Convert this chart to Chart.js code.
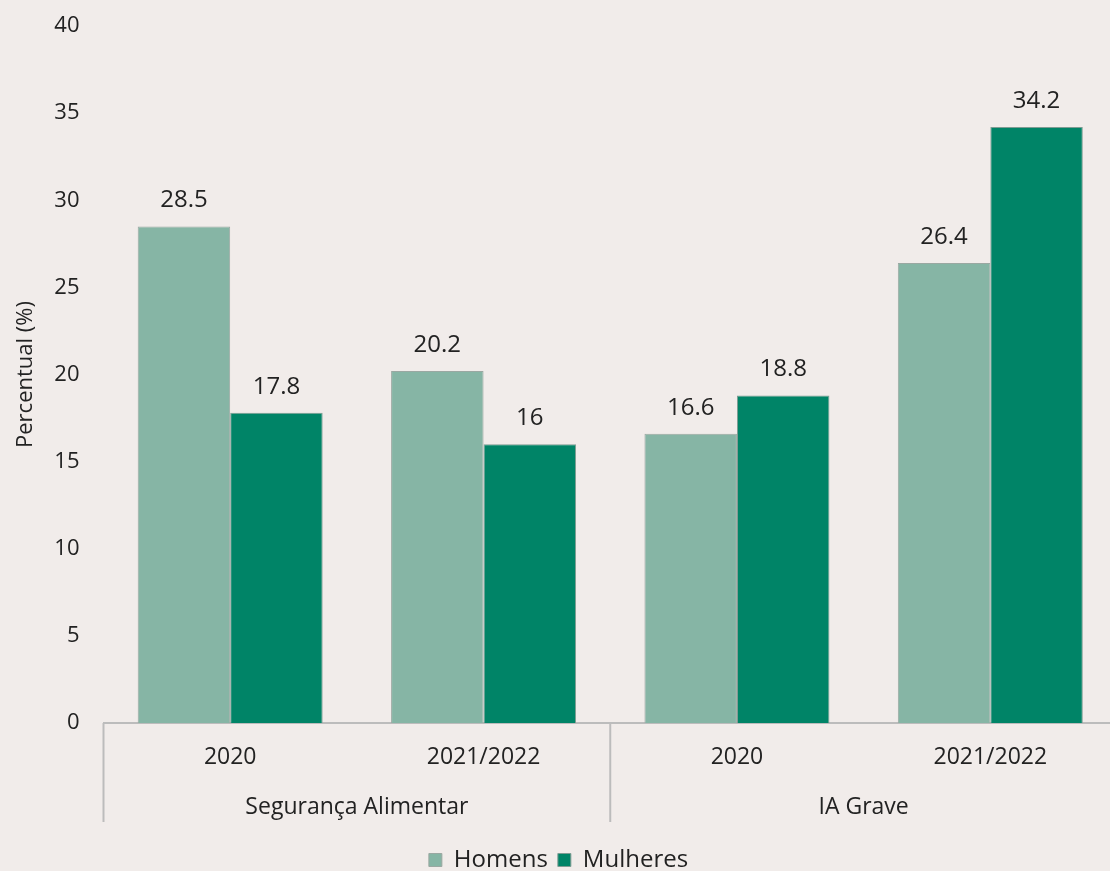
<!DOCTYPE html>
<html>
<head>
<meta charset="utf-8">
<script src="https://cdn.jsdelivr.net/npm/chart.js@4"></script>
<style>
  html, body { margin: 0; padding: 0; background: #f1ecea; overflow: hidden; }
  #wrap { width: 1120px; height: 871px; }
</style>
</head>
<body>
<div id="wrap"><canvas id="chart"></canvas></div>
<script>
const years = ["2020", "2021/2022", "2020", "2021/2022"];
const groups = ["Segurança Alimentar", "IA Grave"];
const homens = [28.5, 20.2, 16.6, 26.4];
const mulheres = [17.8, 16, 18.8, 34.2];

const FONT = "'Open Sans', sans-serif";
const TEXT = "#222";
const LINE = "#bcbcbc";

// value labels above each bar
const barLabels = {
    id: "barLabels",
    afterDatasetsDraw(chart) {
        const ctx = chart.ctx;
        ctx.save();
        ctx.font = "24px " + FONT;
        ctx.fillStyle = TEXT;
        ctx.textAlign = "center";
        ctx.textBaseline = "middle";
        chart.data.datasets.forEach((ds, i) => {
            chart.getDatasetMeta(i).data.forEach((bar, j) => {
                ctx.fillText(String(ds.data[j]), bar.x, bar.y - 26);
            });
        });
        ctx.restore();
    }
};

// vertical separators of the two-level category axis
const groupLines = {
    id: "groupLines",
    afterDraw(chart) {
        const x = chart.scales.x;
        const x2 = chart.scales.x2;
        const ctx = chart.ctx;
        const step = x2.width / groups.length;
        ctx.save();
        ctx.strokeStyle = LINE;
        ctx.lineWidth = 2;
        for (let i = 0; i <= groups.length; i++) {
            const px = x2.left + i * step;
            ctx.beginPath();
            ctx.moveTo(px, x.top);
            ctx.lineTo(px, x2.top + 41);
            ctx.stroke();
        }
        ctx.restore();
    }
};

new Chart(document.getElementById("chart"), {
    type: "bar",
    data: {
        labels: years,
        datasets: [
            { label: "Homens", data: homens, backgroundColor: "#86b5a5", borderColor: "#9aa8a2", borderWidth: 1,
              categoryPercentage: 0.73, barPercentage: 1 },
            { label: "Mulheres", data: mulheres, backgroundColor: "#008467", borderColor: "#7f9c93", borderWidth: 1,
              categoryPercentage: 0.73, barPercentage: 1 }
        ]
    },
    options: {
        responsive: true,
        maintainAspectRatio: false,
        animation: false,
        layout: { padding: { top: 26, right: 3, bottom: 0, left: 0 } },
        scales: {
            y: {
                min: 0,
                max: 40,
                ticks: { stepSize: 5, color: TEXT, font: { family: FONT, size: 22 }, padding: 24 },
                grid: { display: false, drawTicks: false },
                border: { display: false },
                title: { display: true, text: "Percentual (%)", color: TEXT, font: { family: FONT, size: 22 }, padding: { top: 13, bottom: 0 } },
                afterFit(scale) { scale.width = 103.5; scale.paddingTop = 0; scale.paddingBottom = 0; }
            },
            x: {
                ticks: { color: TEXT, font: { family: FONT, size: 23 }, padding: 21, maxRotation: 0 },
                grid: { display: false, drawTicks: false },
                border: { display: true, color: LINE, width: 2 },
                afterFit(scale) { scale.height = 58; }
            },
            x2: {
                type: "category",
                position: "bottom",
                labels: groups,
                offset: true,
                ticks: { color: TEXT, font: { family: FONT, size: 23 }, padding: 13, maxRotation: 0 },
                grid: { display: false, drawTicks: false },
                border: { display: false },
                afterFit(scale) { scale.height = 57; }
            }
        },
        plugins: {
            legend: {
                position: "bottom",
                maxHeight: 33,
                labels: { color: TEXT, font: { family: FONT, size: 24 }, boxWidth: 13, boxHeight: 13, padding: 10 }
            },
            tooltip: { enabled: false }
        }
    },
    plugins: [barLabels, groupLines]
});
</script>
</body>
</html>
